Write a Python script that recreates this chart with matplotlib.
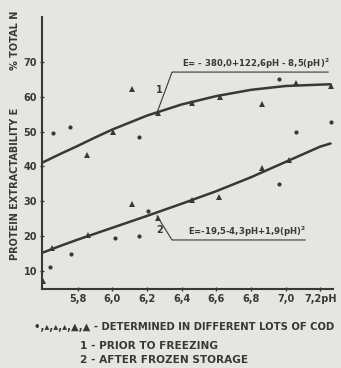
import matplotlib
matplotlib.use("Agg")
import matplotlib.pyplot as plt

# values
ph_ticks = [5.8, 6.0, 6.2, 6.4, 6.6, 6.8, 7.0, 7.2]
ph_tick_labels = ["5,8", "6,0", "6,2", "6,4", "6,6", "6,8", "7,0", "7,2pH"]
e_ticks = [10, 20, 30, 40, 50, 60, 70]

curve_ph = [5.6, 5.7, 5.8, 5.9, 6.0, 6.2, 6.4, 6.6, 6.8, 7.0, 7.2, 7.26]
curve_prior = [41.2, 43.6, 45.9, 48.3, 50.6, 54.6, 57.8, 60.2, 62.0, 63.1, 63.5, 63.6]
curve_after = [15.3, 17.2, 19.0, 20.7, 22.4, 25.8, 29.3, 32.9, 36.9, 41.3, 45.7, 46.6]

ph_dots = [5.656, 5.758, 6.157, 6.96, 7.062, 7.265,
           5.642, 5.762, 6.016, 6.157, 6.205, 6.962]
e_dots = [49.5, 51.4, 48.4, 65.0, 50.0, 52.8,
          11.2, 15.0, 19.5, 20.0, 27.3, 35.1]

ph_tri = [5.854, 6.003, 6.114, 6.263, 6.46, 6.619, 6.864, 7.058, 7.265,
          5.652, 5.862, 6.113, 6.263, 6.46, 6.616, 6.864, 7.018, 5.6]
e_tri = [43.3, 50.0, 62.2, 55.3, 58.3, 59.9, 57.9, 63.9, 63.1,
         16.5, 20.3, 29.2, 25.1, 30.3, 31.3, 39.7, 41.8, 7.0]

eq_prior = "E= - 380,0+122,6pH - 8,5(pH)$^{2}$"
eq_after = "E=-19,5-4,3pH+1,9(pH)$^{2}$"

ink = "#383836"
bg = "#e5e5e1"
font = ["Liberation Sans Narrow", "DejaVu Sans"]
plt.rcParams["font.family"] = font
plt.rcParams["font.weight"] = "bold"

fig = plt.figure(figsize=(3.41, 3.68), dpi=100, facecolor=bg)
ax = fig.add_axes([0.123, 0.2147, 0.854, 0.739])
ax.set_facecolor(bg)

ax.plot(curve_ph, curve_prior, color=ink, linewidth=1.8, solid_capstyle="round")
ax.plot(curve_ph, curve_after, color=ink, linewidth=1.8, solid_capstyle="round")
ax.plot(ph_dots, e_dots, "o", color=ink, markersize=3, markeredgewidth=0)
ax.plot(ph_tri, e_tri, "^", color=ink, markersize=4, markeredgewidth=0)

# leader lines and equations
ax.plot([6.258, 6.345, 7.246], [55.4, 67.1, 67.1], color=ink, linewidth=0.8)
ax.plot([6.258, 6.345, 7.113], [25.8, 18.9, 18.9], color=ink, linewidth=0.8)
ax.text(6.27, 62, "1", color=ink, fontsize=7, ha="center", va="center")
ax.text(6.276, 21.8, "2", color=ink, fontsize=7, ha="center", va="center")
ax.text(6.405, 67.5, eq_prior, color=ink, fontsize=6.1, ha="left", va="bottom")
ax.text(6.435, 19.3, eq_after, color=ink, fontsize=6.1, ha="left", va="bottom")

ax.set_xlim(5.594, 7.275)
ax.set_ylim(4.83, 82.9)
ax.set_xticks(ph_ticks)
ax.set_xticklabels(ph_tick_labels)
ax.set_yticks(e_ticks)
for s in ["top", "right"]:
    ax.spines[s].set_visible(False)
for s in ["left", "bottom"]:
    ax.spines[s].set_color(ink)
    ax.spines[s].set_linewidth(1.5)
ax.tick_params(colors=ink, labelsize=7, length=3, width=1, direction="inout", pad=2)

fig.text(0.044, 0.5, "PROTEIN EXTRACTABILITY E", rotation=90, color=ink,
         fontsize=7, ha="center", va="center")
fig.text(0.044, 0.89, "% TOTAL N", rotation=90, color=ink,
         fontsize=7, ha="center", va="center")

fig.text(0.10, 0.112, "\u2022,\u25b4,\u25b4,\u25b4,\u25b2,\u25b2 - DETERMINED IN DIFFERENT LOTS OF COD",
         color=ink, fontsize=7.2, ha="left", va="center")
fig.text(0.235, 0.06, "1 - PRIOR TO FREEZING", color=ink, fontsize=7.6, ha="left", va="center")
fig.text(0.235, 0.022, "2 - AFTER FROZEN STORAGE", color=ink, fontsize=7.6, ha="left", va="center")

fig.savefig("out.png", dpi=100, facecolor=bg)
